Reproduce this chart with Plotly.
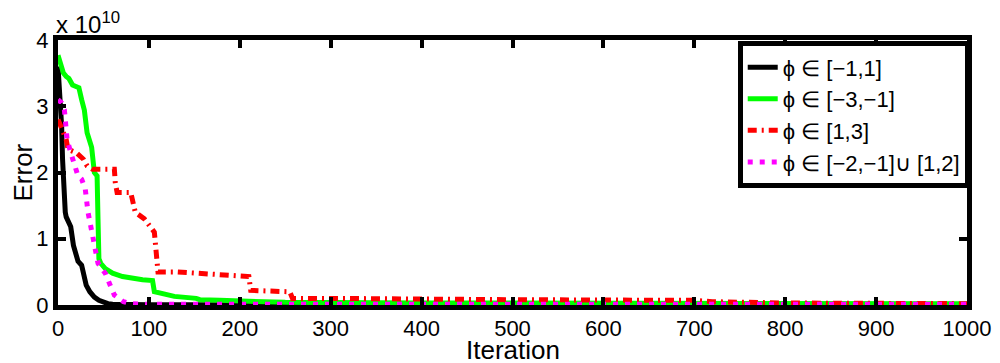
import plotly.graph_objects as go

# Error values in units of 1e10
black_x = [0, 2, 4, 5, 6, 8, 9, 12, 14, 17, 20, 22, 26, 28, 31, 35, 40, 45, 50, 55, 60, 70, 100, 200, 400, 600, 800, 1000]
black_y = [3.6, 3.2, 2.7, 2.2, 1.8, 1.4, 1.33, 1.25, 1.18, 0.9, 0.7, 0.66, 0.6, 0.45, 0.3, 0.2, 0.12, 0.07, 0.04, 0.02, 0.01, 0.005, 0.003, 0.002, 0.001, 0.001, 0.001, 0.001]

green_x = [0, 3, 6, 9, 12, 16, 23, 26, 29, 32, 35, 37, 40, 43, 44, 45, 47, 52, 60, 71, 93, 104, 106, 122, 128, 152, 156, 178, 250, 400, 600, 800, 1000]
green_y = [3.77, 3.62, 3.5, 3.45, 3.42, 3.32, 3.28, 3.1, 2.94, 2.6, 2.45, 2.38, 2.0, 1.95, 1.3, 0.7, 0.63, 0.55, 0.48, 0.43, 0.38, 0.37, 0.2, 0.16, 0.13, 0.1, 0.08, 0.07, 0.04, 0.03, 0.025, 0.02, 0.02]

red_x = [0, 5, 9, 11, 20, 28, 32, 38, 62, 63, 65, 80, 82, 85, 95, 100, 106, 108, 110, 130, 200, 210, 212, 255, 258, 300, 500, 700, 720, 800, 1000]
red_y = [2.8, 2.65, 2.5, 2.35, 2.3, 2.2, 2.1, 2.05, 2.05, 1.85, 1.7, 1.7, 1.55, 1.4, 1.3, 1.2, 1.1, 0.8, 0.5, 0.5, 0.45, 0.43, 0.22, 0.2, 0.1, 0.1, 0.08, 0.07, 0.05, 0.03, 0.02]

mag_x = [0, 4, 7, 10, 14, 22, 26, 30, 33, 36, 40, 44, 48, 52, 58, 62, 67, 72, 80, 100, 1000]
mag_y = [3.1, 3.05, 2.95, 2.5, 2.3, 1.95, 1.9, 1.75, 1.4, 1.18, 0.93, 0.63, 0.55, 0.48, 0.28, 0.15, 0.1, 0.05, 0.02, 0.01, 0.01]

names = ["ϕ ∈ [−1,1]", "ϕ ∈ [−3,−1]", "ϕ ∈ [1,3]", "ϕ ∈ [−2,−1]∪ [1,2]"]
x_ticks = [0, 100, 200, 300, 400, 500, 600, 700, 800, 900, 1000]
y_ticks = [0, 1, 2, 3, 4]

FONT = "Liberation Sans, Arial, sans-serif"

fig = go.Figure()
fig.add_trace(go.Scatter(x=black_x, y=black_y, mode="lines", name=names[0],
                         line=dict(color="#000000", width=5)))
fig.add_trace(go.Scatter(x=green_x, y=green_y, mode="lines", name=names[1],
                         line=dict(color="#00ff00", width=5)))
fig.add_trace(go.Scatter(x=red_x, y=red_y, mode="lines", name=names[2],
                         line=dict(color="#ff0000", width=5, dash="9px,5px,2px,5px")))
fig.add_trace(go.Scatter(x=mag_x, y=mag_y, mode="lines", name=names[3],
                         line=dict(color="#ff00ff", width=5, dash="5px,7px")))

fig.update_layout(
    width=1000, height=363,
    margin=dict(l=58, r=33, t=40, b=58),
    paper_bgcolor="white", plot_bgcolor="white",
    font=dict(family=FONT, color="black", size=22),
    showlegend=True,
    legend=dict(x=1.003, xanchor="right", y=0.995, yanchor="top",
                bgcolor="white", bordercolor="black", borderwidth=5,
                font=dict(size=22, family=FONT), tracegroupgap=0),
    xaxis=dict(range=[0, 1000], tickvals=x_ticks, ticks="inside", ticklen=8, tickwidth=4,
               tickcolor="black", showline=True, linecolor="black", linewidth=5, mirror="ticks",
               showgrid=False, zeroline=False, tickfont=dict(size=22), automargin=False),
    yaxis=dict(range=[0, 4], tickvals=y_ticks, ticks="inside", ticklen=8, tickwidth=4,
               tickcolor="black", showline=True, linecolor="black", linewidth=5, mirror="ticks",
               showgrid=False, zeroline=False, tickfont=dict(size=22), automargin=False),
)

# axis titles
fig.add_annotation(x=0.5, y=0, xref="paper", yref="paper", xanchor="center", yanchor="top",
                   text="Iteration", showarrow=False, font=dict(size=26, family=FONT),
                   yshift=-28)
fig.add_annotation(x=0, y=0.5, xref="paper", yref="paper", xanchor="center", yanchor="middle",
                   text="Error", textangle=-90, showarrow=False, font=dict(size=26, family=FONT),
                   xshift=-36)
fig.add_annotation(x=0, y=1, xref="paper", yref="paper", xanchor="left", yanchor="bottom",
                   text="x 10<sup>10</sup>", showarrow=False, font=dict(size=24, family=FONT),
                   xshift=-4, yshift=0)

fig.write_html("out.html", config={"displayModeBar": False},
               post_script="document.body.style.margin='0';")
